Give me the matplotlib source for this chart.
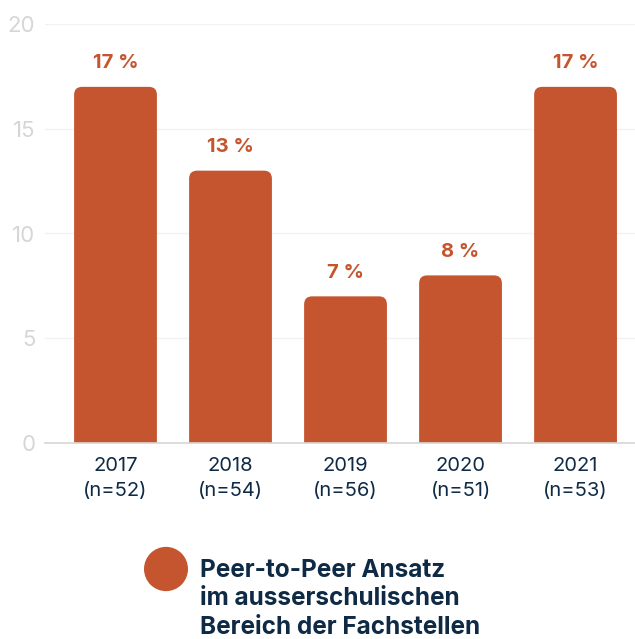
import matplotlib.pyplot as plt
from matplotlib.patches import FancyBboxPatch, Circle

# Anteil Peer-to-Peer Ansatz pro Jahr
years = ['2017', '2018', '2019', '2020', '2021']
n_values = [52, 54, 56, 51, 53]
shares = [17, 13, 7, 8, 17]

bar_color = '#c4552e'
navy = '#0f2a45'
light = '#d6d6d6'

plt.rcParams['font.family'] = ['Inter', 'DejaVu Sans']

fig = plt.figure(figsize=(6.35, 6.39), dpi=100)
W, H = 635, 639
ax = fig.add_axes([45 / W, 1 - 443 / H, 590 / W, 419 / H])

x0, x1 = -0.613, 4.517
ax.set_xlim(x0, x1)
ax.set_ylim(0, 20)

bar_w = 0.72
# Seitenverhältnis Daten -> Pixel für abgerundete Ecken
px_x = 590 / (x1 - x0)
px_y = 419 / 20
aspect = px_x / px_y
for i, v in enumerate(shares):
    patch = FancyBboxPatch((i - bar_w / 2, -2), bar_w, v + 2,
                           boxstyle='round,pad=0,rounding_size=%f' % (8 / px_x),
                           mutation_aspect=aspect,
                           facecolor=bar_color, edgecolor='none', zorder=3)
    ax.add_patch(patch)
    ax.annotate(f'{v} %', (i, v), xytext=(0, 17), textcoords='offset points',
                ha='center', va='center', color=bar_color,
                fontsize=14.5, fontweight='bold')

ax.set_yticks([0, 5, 10, 15, 20])
ax.tick_params(axis='y', length=0, pad=7, labelsize=16, labelcolor=light)
ax.set_xticks(range(len(years)))
ax.set_xticklabels([f'{y}\n(n={n})' for y, n in zip(years, n_values)],
                   color=navy, fontsize=14.5, linespacing=1.5)
ax.tick_params(axis='x', length=0, pad=10)
ax.grid(axis='y', color='#f2f2f2', linewidth=1, zorder=0)

for side in ['top', 'right', 'left']:
    ax.spines[side].set_visible(False)
ax.spines['bottom'].set_color(light)
ax.spines['bottom'].set_linewidth(1.2)
ax.spines['bottom'].set_zorder(4)

# Legende unten
fig.patches.append(Circle((166 / W, 1 - 569 / H), 22 / W, transform=fig.transFigure,
                          facecolor=bar_color, edgecolor='none'))
fig.text(200 / W, 1 - 559 / H,
         'Peer-to-Peer Ansatz\nim ausserschulischen\nBereich der Fachstellen',
         ha='left', va='top', color=navy, fontsize=17.5, fontweight='bold',
         linespacing=1.3)

fig.savefig('out.png', dpi=100)
